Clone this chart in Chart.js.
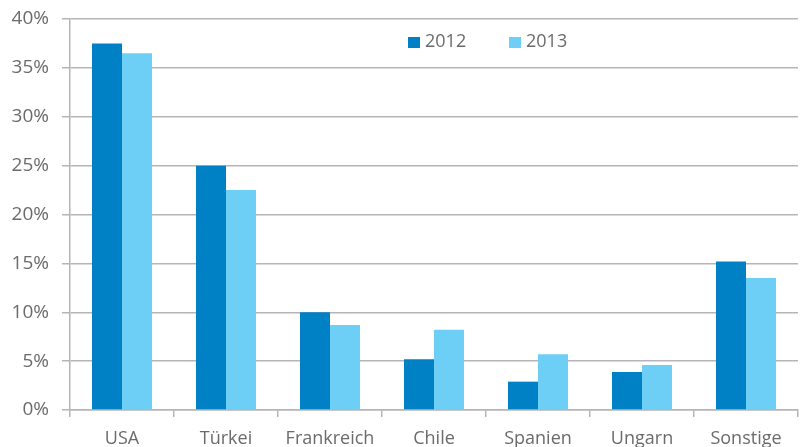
<!DOCTYPE html>
<html>
<head>
<meta charset="utf-8">
<script src="https://cdn.jsdelivr.net/npm/chart.js@4"></script>
<style>
  html, body { margin: 0; padding: 0; background: #fff; }
  #wrap { width: 803px; height: 447px; }
</style>
</head>
<body>
<div id="wrap"><canvas id="exportChart" width="803" height="447"></canvas></div>
<script>
const countries = ['USA', 'Türkei', 'Frankreich', 'Chile', 'Spanien', 'Ungarn', 'Sonstige'];
const years = ['2012', '2013'];
const share2012 = [37.5, 25.0, 10.0, 5.2, 2.9, 3.9, 15.2];
const share2013 = [36.5, 22.5, 8.7, 8.2, 5.7, 4.6, 13.5];
const yearColors = ['#0081c6', '#6dcff6'];

const textColor = '#6b6b6e';
const gridColor = '#b5b5b9';
const font = { family: '"Open Sans", sans-serif', size: 18 };

// legend sits inside the plot, near the top
const insideLegend = {
  id: 'insideLegend',
  afterDraw(chart) {
    const ctx = chart.ctx;
    const spots = [408, 509];
    ctx.save();
    ctx.font = '18px "Open Sans", sans-serif';
    ctx.textBaseline = 'middle';
    chart.data.datasets.forEach((ds, i) => {
      const x = spots[i];
      ctx.fillStyle = ds.backgroundColor;
      ctx.fillRect(x, 37, 12, 11);
      ctx.fillStyle = textColor;
      ctx.fillText(ds.label, x + 17, 42);
    });
    ctx.restore();
  }
};

new Chart(document.getElementById('exportChart'), {
  type: 'bar',
  data: {
    labels: countries,
    datasets: [
      { label: years[0], data: share2012, backgroundColor: yearColors[0] },
      { label: years[1], data: share2013, backgroundColor: yearColors[1] }
    ]
  },
  options: {
    responsive: false,
    animation: false,
    devicePixelRatio: 1,
    layout: { padding: { top: 19, right: 5, left: 0, bottom: 0 } },
    datasets: {
      bar: { categoryPercentage: 0.577, barPercentage: 1, borderWidth: 0 }
    },
    plugins: {
      legend: { display: false },
      tooltip: { enabled: false }
    },
    scales: {
      x: {
        grid: {
          offset: true,
          drawOnChartArea: false,
          color: gridColor,
          lineWidth: 1.5,
          tickLength: 7
        },
        border: { color: gridColor, width: 1.5 },
        ticks: { color: textColor, font, padding: 11 },
        afterFit(scale) { scale.height = 37; }
      },
      y: {
        min: 0,
        max: 40,
        afterFit(scale) { scale.width = 70; scale.paddingTop = 0; scale.paddingBottom = 0; },
        grid: { color: gridColor, lineWidth: 1.5, tickLength: 8 },
        border: { color: gridColor, width: 1.5 },
        ticks: {
          stepSize: 5,
          color: textColor,
          font: { family: font.family, size: 19 },
          padding: 13,
          callback: v => v + '%'
        }
      }
    }
  },
  plugins: [insideLegend]
});
</script>
</body>
</html>
